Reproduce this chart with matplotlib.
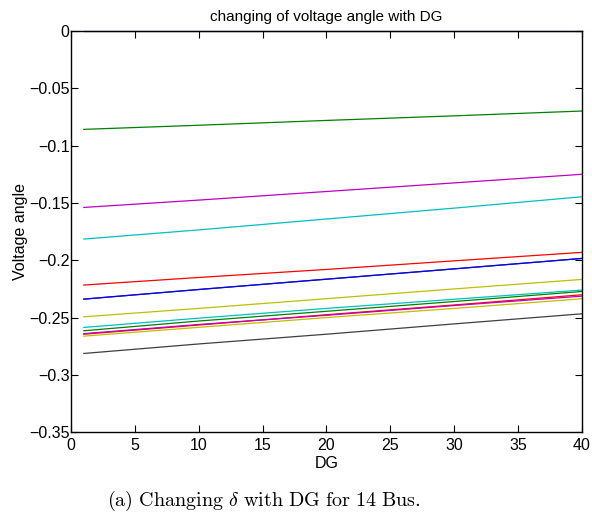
import matplotlib
matplotlib.use("Agg")
import matplotlib.pyplot as plt
from matplotlib.ticker import FuncFormatter

plt.rcParams['font.family'] = ['Liberation Sans', 'DejaVu Sans']
plt.rcParams['mathtext.fontset'] = 'cm'

# DG steps where values were read
dg = [1, 10, 20, 30, 40]

# voltage angle (rad) per bus
bus1 = [0.0, 0.0, 0.0, 0.0, 0.0]
bus2 = [-0.0858, -0.0822, -0.0780, -0.0740, -0.0698]
bus3 = [-0.2216, -0.2150, -0.2080, -0.2005, -0.1931]
bus4 = [-0.1815, -0.1735, -0.1640, -0.1545, -0.1446]
bus5 = [-0.1539, -0.1475, -0.1400, -0.1325, -0.1250]
bus6 = [-0.2493, -0.2420, -0.2335, -0.2250, -0.2167]
bus7 = [-0.2339, -0.2255, -0.2165, -0.2075, -0.1984]
bus8 = [-0.2339, -0.2255, -0.2165, -0.2075, -0.1984]
bus9 = [-0.2615, -0.2530, -0.2445, -0.2360, -0.2272]
bus10 = [-0.2645, -0.2565, -0.2475, -0.2390, -0.2301]
bus11 = [-0.2586, -0.2505, -0.2420, -0.2340, -0.2260]
bus12 = [-0.2640, -0.2560, -0.2480, -0.2395, -0.2313]
bus13 = [-0.2662, -0.2585, -0.2500, -0.2420, -0.2336]
bus14 = [-0.2813, -0.2730, -0.2645, -0.2555, -0.2467]

buses = [bus1, bus2, bus3, bus4, bus5, bus6, bus7,
         bus8, bus9, bus10, bus11, bus12, bus13, bus14]

# old matlab colour order b g r c m y k
colors = ['#1c1ca0', '#008000', '#ff0000', '#00bfbf', '#bf00bf', '#bfbf00', '#404040',
          '#0000ff', '#008000', '#ff0000', '#00bfbf', '#bf00bf', '#bfbf00', '#404040']

fig = plt.figure(figsize=(5.92, 5.17), dpi=100)
ax = fig.add_axes([0.12, 0.164, 0.863, 0.776])

for vals, c in zip(buses, colors):
    ax.plot(dg, vals, color=c, lw=0.9, clip_on=False)

ax.set_xlim(0, 40)
ax.set_ylim(-0.35, 0)
ax.set_xticks(range(0, 41, 5))
ax.set_yticks([-0.35, -0.3, -0.25, -0.2, -0.15, -0.1, -0.05, 0])
ax.yaxis.set_major_formatter(FuncFormatter(lambda v, p: ('%g' % v).replace('-', '\u2212')))
ax.tick_params(direction='in', length=5, top=True, right=True, labelsize=11.5)
ax.tick_params(axis='x', pad=4)
ax.tick_params(axis='y', pad=1)
for s in ax.spines.values():
    s.set_linewidth(1.0)

ax.set_xlabel("DG", fontsize=11.5, labelpad=2)
ax.set_ylabel("Voltage angle", fontsize=11.5, labelpad=1)
ax.set_title("changing of voltage angle with DG", fontsize=11, pad=7)

fig.text(0.446, 0.031, r"$\mathrm{(a)\ Changing\ }\delta\mathrm{\ with\ DG\ for\ 14\ Bus.}$",
         ha='center', va='center', fontsize=14.5)

fig.savefig("out.png", dpi=100)
